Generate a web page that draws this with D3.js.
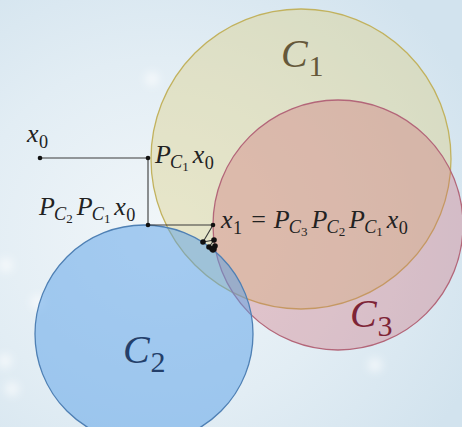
<!DOCTYPE html>
<html>
<head>
<meta charset="utf-8">
<script src="https://cdn.jsdelivr.net/npm/d3@7"></script>
<style>
  body { margin: 0; overflow: hidden; }
  svg { display: block; }
</style>
</head>
<body>
<div id="vis"></div>
<script>
// diagram units (1 unit = 100px), y pointing up
const circleNames = ["C1", "C3", "C2"];
const circleCx = [3.01, 3.38, 1.44];
const circleCy = [2.68, 2.02, 0.93];
const circleR = [1.50, 1.25, 1.09];

// alternating projection iterates
const iterX = [0.40, 1.48, 1.48, 2.13, 2.03, 2.14, 2.09, 2.15, 2.12, 2.14, 2.13];
const iterY = [2.69, 2.69, 2.02, 2.02, 1.85, 1.87, 1.80, 1.81, 1.78, 1.78, 1.77];

const width = 462, height = 427;

const x = d3.scaleLinear().domain([0, 4.62]).range([0, width]);
const y = d3.scaleLinear().domain([0, 4.27]).range([height, 0]);
const r = d => x(d) - x(0);

const fills = { C1: "rgba(220,208,135,0.42)", C3: "rgba(205,100,112,0.32)", C2: "rgba(88,160,232,0.5)" };
const strokes = { C1: "#c2b25e", C3: "#b36679", C2: "#4f80b4" };
const labelCol = { C1: "#65583a", C3: "#7e2436", C2: "#243f6a" };

const FONT = "'Liberation Serif', serif";

const svg = d3.select("#vis").append("svg")
    .attr("width", width)
    .attr("height", height);

const defs = svg.append("defs");
const bg = defs.append("radialGradient").attr("id", "bg")
    .attr("cx", "0.35").attr("cy", "0.55").attr("r", "0.75");
bg.append("stop").attr("offset", "0%").attr("stop-color", "#f1f6f9");
bg.append("stop").attr("offset", "55%").attr("stop-color", "#e2edf4");
bg.append("stop").attr("offset", "100%").attr("stop-color", "#d2e3ee");

const blur = defs.append("filter").attr("id", "blur");
blur.append("feGaussianBlur").attr("stdDeviation", 4);

svg.append("rect").attr("width", width).attr("height", height).attr("fill", "url(#bg)");

// soft bokeh spots
const spotX = [0.06, 0.38, 0.12, 1.52, 3.75, 0.05];
const spotY = [1.62, 1.25, 0.38, 3.48, 0.62, 0.66];
svg.append("g").attr("filter", "url(#blur)")
  .selectAll("circle")
  .data(d3.range(spotX.length))
  .join("circle")
    .attr("cx", i => x(spotX[i]))
    .attr("cy", i => y(spotY[i]))
    .attr("r", 7)
    .attr("fill", "rgba(255,255,255,0.6)");

svg.append("g")
  .selectAll("circle")
  .data(circleNames)
  .join("circle")
    .attr("cx", (d, i) => x(circleCx[i]))
    .attr("cy", (d, i) => y(circleCy[i]))
    .attr("r", (d, i) => r(circleR[i]))
    .attr("fill", d => fills[d])
    .attr("stroke", d => strokes[d])
    .attr("stroke-width", 1.3);

// path of iterates
const line = d3.line().x(i => x(iterX[i])).y(i => y(iterY[i]));
svg.append("path")
    .attr("d", line(d3.range(iterX.length)))
    .attr("fill", "none")
    .attr("stroke", "#3a3a3a")
    .attr("stroke-width", 1.1);

svg.append("g")
  .selectAll("circle")
  .data(d3.range(iterX.length))
  .join("circle")
    .attr("cx", i => x(iterX[i]))
    .attr("cy", i => y(iterY[i]))
    .attr("r", i => i < 4 ? 2.3 : 2.8)
    .attr("fill", "#111");

// math-like label: tokens are "P1" style projections, "x0", "x1", "="
function mathLabel(px, py, tokens, size, color, subRatio) {
  const t = svg.append("text")
      .attr("x", px).attr("y", py)
      .attr("font-family", FONT)
      .attr("font-size", size)
      .attr("fill", color || "#222");
  const sub = size * (subRatio || 0.7), sub2 = size * 0.5;
  let cur = 0;   // current baseline offset
  let gap = 0;
  const piece = (txt, off, fs, italic, dx) => {
    t.append("tspan")
        .attr("dx", dx)
        .attr("dy", off - cur)
        .attr("font-size", fs)
        .attr("font-style", italic ? "italic" : "normal")
        .text(txt);
    cur = off;
  };
  tokens.forEach(tok => {
    if (tok === "=") {
      piece("=", 0, size, false, gap + size * 0.3);
      gap = size * 0.3;
    } else if (tok[0] === "P") {
      piece("P", 0, size, true, gap);
      piece("C", size * 0.2, sub, true, -size * 0.03);
      piece(tok[1], size * 0.32, sub2, false, 0);
      gap = size * 0.15;
    } else {
      // single letter with digit subscript
      piece(tok[0], 0, size, true, gap);
      piece(tok[1], size * 0.22, sub, false, size * 0.02);
      gap = size * 0.05;
    }
  });
  return t;
}

mathLabel(x(0.27), y(2.85), ["x0"], 26);
mathLabel(x(1.55), y(2.64), ["P1", "x0"], 26);
mathLabel(x(0.39), y(2.12), ["P2", "P1", "x0"], 26);
mathLabel(x(2.21), y(1.99), ["x1", "=", "P3", "P2", "P1", "x0"], 26);

mathLabel(x(2.81), y(3.60), ["C1"], 40, labelCol.C1, 0.75);
mathLabel(x(3.50), y(1.00), ["C3"], 40, labelCol.C3, 0.75);
mathLabel(x(1.23), y(0.64), ["C2"], 40, labelCol.C2, 0.75);
</script>
</body>
</html>
